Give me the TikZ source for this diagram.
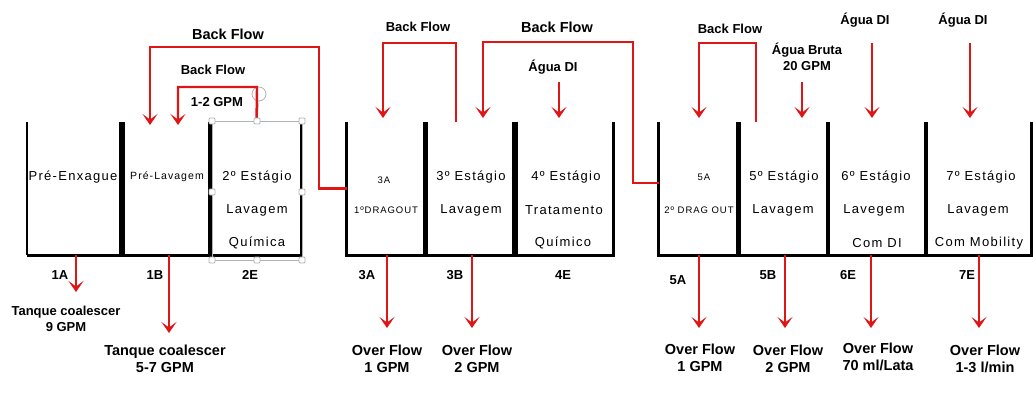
\documentclass[tikz,border=0pt]{standalone}
\usepackage{fontspec}
\setmainfont{Liberation Sans}
\newfontfamily\tankfont[LetterSpace=10]{Liberation Sans}
\usetikzlibrary{arrows.meta}
\definecolor{flowred}{RGB}{222,22,22}
\newcommand\mktank[3]{%
  \node[tankbox, minimum width={#3-#2}, minimum height=133] (#1) at ({(#2+#3)/2},188.5) {};
  \draw[wall] (#1.north west) -- (#1.south west) -- (#1.south east) -- (#1.north east);}
\begin{document}
\begin{tikzpicture}[x=1pt,y=-1pt,
  wall/.style={line width=2.8pt, line cap=butt, line join=miter},
  flow/.style={draw=flowred, line width=2.4pt, -{Stealth[length=11pt,width=15pt,inset=5.5pt,fill=flowred]}},
  lab/.style={font=\bfseries\fontsize{14.5}{17}\selectfont, inner sep=0pt, align=center},
  slab/.style={font=\bfseries\fontsize{13}{16}\selectfont, inner sep=0pt, align=center},
  ttxt/.style={font=\tankfont\fontsize{13}{13}\selectfont, inner sep=0pt},
  stxt/.style={font=\tankfont\fontsize{10.5}{10.5}\selectfont, inner sep=0pt},
  xstxt/.style={font=\tankfont\fontsize{9.5}{9.5}\selectfont, inner sep=0pt},
  handle/.style={draw=gray!60, fill=white, line width=0.8pt, minimum size=6pt, inner sep=0pt, rounded corners=1pt},
  tankbox/.style={inner sep=0pt, draw=none}
]
\useasboundingbox (0,0) rectangle (1033,392);

% ---------- tanks ----------
\node[tankbox, minimum width=93, minimum height=133] (t1) at (73.5,188.5) {};
\draw[line width=1.4pt] (t1.north west) -- (t1.south west);
\draw[wall] (t1.south west) -- (t1.south east) -- (t1.north east);
\mktank{t2}{124}{209}
\mktank{t3}{212}{301}
\mktank{t4}{347}{424}
\mktank{t5}{427}{513}
\mktank{t6}{517}{613}
\mktank{t7}{659}{737}
\mktank{t8}{740}{827}
\mktank{t9}{829}{925}
\mktank{t10}{927}{1031}

% ---------- tank texts ----------
\node[ttxt] (x1) at (73,177) {Pré-Enxague};
\node[stxt] (x2) at (167,177) {Pré-Lavagem};
\node[ttxt] (x3a) at (257,177) {2º Estágio};
\node[ttxt] (x3b) at (257,210) {Lavagem};
\node[ttxt] (x3c) at (257,243) {Química};
\node[xstxt] (x4a) at (384,180) {3A};
\node[xstxt] (x4b) at (386,210) {1ºDRAGOUT};
\node[ttxt] (x5a) at (471,177) {3º Estágio};
\node[ttxt] (x5b) at (471,210) {Lavagem};
\node[ttxt] (x6a) at (566,177) {4º Estágio};
\node[ttxt] (x6b) at (564,210) {Tratamento};
\node[ttxt] (x6c) at (563,243) {Químico};
\node[xstxt] (x7a) at (704,177) {5A};
\node[xstxt] (x7b) at (699,210) {2º DRAG OUT};
\node[ttxt] (x8a) at (784,177) {5º Estágio};
\node[ttxt] (x8b) at (783,210) {Lavagem};
\node[ttxt] (x9a) at (876,177) {6º Estágio};
\node[ttxt] (x9b) at (874,210) {Lavegem};
\node[ttxt] (x9c) at (877,243) {Com DI};
\node[ttxt] (x10a) at (981,177) {7º Estágio};
\node[ttxt] (x10b) at (978,210) {Lavagem};
\node[ttxt] (x10c) at (979,243) {Com Mobility};

% ---------- selection handles (tank 2E) ----------
\draw[gray!60, line width=0.6pt] (212,121) rectangle (302,260);
\node[draw=gray!60, line width=0.8pt, circle, minimum size=14pt, inner sep=0pt] (rot) at (259,94) {};
\draw[gray!60, line width=0.6pt] (rot.south) -- (t3.north);

% ---------- back flows ----------
\coordinate (bf1c) at (319,47);
\coordinate (bf1e) at (150,125);
\draw[flow] (t4.west) -| (bf1c) -| (bf1e);

\coordinate (bf2c) at (257,87);
\coordinate (bf2e) at (178,125);
\draw[flow] (t3.north) -- (bf2c) -| (bf2e);

\coordinate (bf3s) at (456,122);
\coordinate (bf3c) at (456,43);
\coordinate (bf3e) at (383,118);
\draw[flow] (bf3s) -- (bf3c) -| (bf3e);

\coordinate (bf4s) at (659,183);
\coordinate (bf4c) at (633,42);
\coordinate (bf4e) at (483,118);
\draw[flow] (bf4s) -| (bf4c) -| (bf4e);

\coordinate (bf5s) at (756,122);
\coordinate (bf5c) at (756,43);
\coordinate (bf5e) at (699,118);
\draw[flow] (bf5s) -- (bf5c) -| (bf5e);

% ---------- feed water ----------
\coordinate (f4s) at (559,82);  \coordinate (f4e) at (559,118);
\coordinate (f5s) at (802,82);  \coordinate (f5e) at (802,118);
\coordinate (f6s) at (872,43);  \coordinate (f6e) at (872,118);
\coordinate (f7s) at (970,43);  \coordinate (f7e) at (970,118);
\draw[flow] (f4s) -- (f4e);
\draw[flow] (f5s) -- (f5e);
\draw[flow] (f6s) -- (f6e);
\draw[flow] (f7s) -- (f7e);

% handles on top
\foreach \hx/\hy in {212/121,257/121,302/121,212/192,302/192,212/260,257/260,302/260}
  \node[handle] at (\hx,\hy) {};

% ---------- overflows ----------
\coordinate (o1) at (76,292);
\coordinate (o2) at (169,333);
\coordinate (o4) at (387,328);
\coordinate (o5) at (472,328);
\coordinate (o7) at (699,328);
\coordinate (o8) at (785,328);
\coordinate (o9) at (871,328);
\coordinate (o10) at (979,328);
\draw[flow] (t1.south -| o1) -- (o1);
\draw[flow] (t2.south -| o2) -- (o2);
\draw[flow] (t4.south -| o4) -- (o4);
\draw[flow] (t5.south -| o5) -- (o5);
\draw[flow] (t7.south -| o7) -- (o7);
\draw[flow] (t8.south -| o8) -- (o8);
\draw[flow] (t9.south -| o9) -- (o9);
\draw[flow] (t10.south -| o10) -- (o10);

% ---------- top labels ----------
\node[lab] (l1) at (228,34) {Back Flow};
\node[slab] (l2) at (213,70) {Back Flow};
\node[slab] (l2b) at (217,102) {1-2 GPM};
\node[slab] (l3) at (418,27) {Back Flow};
\node[lab] (l4) at (557,27) {Back Flow};
\node[slab] (l5) at (730,29) {Back Flow};
\node[slab] (l6) at (553,67) {Água DI};
\node[slab] (l7) at (807,56.5) {Água Bruta\\20 GPM};
\node[slab] (l8) at (865,20) {Água DI};
\node[slab] (l9) at (963,20) {Água DI};

% ---------- bottom labels ----------
\node[slab] (b1) at (60,275) {1A};
\node[slab] (b2) at (155,275) {1B};
\node[slab] (b3) at (250,275) {2E};
\node[slab] (b4) at (367,275) {3A};
\node[slab] (b5) at (455,275) {3B};
\node[slab] (b6) at (563,275) {4E};
\node[slab] (b7) at (678,280) {5A};
\node[slab] (b8) at (768,275) {5B};
\node[slab] (b9) at (848,275) {6E};
\node[slab] (b10) at (967,275) {7E};

\node[slab] (d1) at (66,318.5) {Tanque coalescer\\9 GPM};
\node[lab] (d2) at (165,359) {Tanque coalescer\\5-7 GPM};
\node[lab] (d4) at (387,359) {Over Flow\\1 GPM};
\node[lab] (d5) at (477,359) {Over Flow\\2 GPM};
\node[lab] (d7) at (700,357.5) {Over Flow\\1 GPM};
\node[lab] (d8) at (788,359) {Over Flow\\2 GPM};
\node[lab] (d9) at (878,357) {Over Flow\\70 ml/Lata};
\node[lab] (d10) at (985,359) {Over Flow\\1-3 l/min};
\end{tikzpicture}
\end{document}
